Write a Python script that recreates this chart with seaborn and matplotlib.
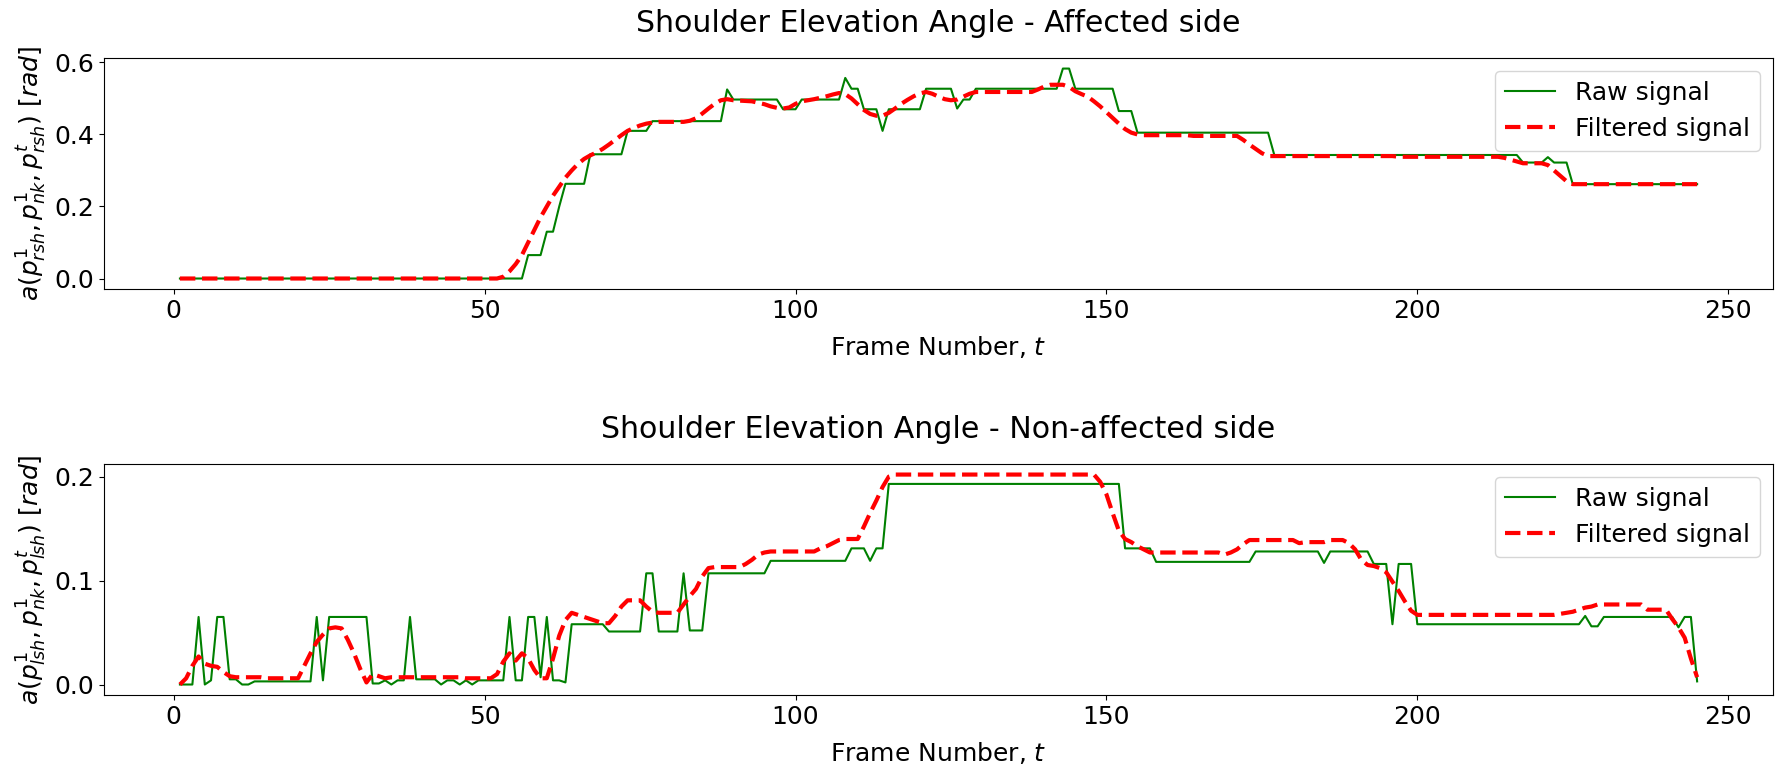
import numpy as np
import seaborn as sns
import matplotlib
matplotlib.use('Agg')
import matplotlib.pyplot as plt

# values, stored as (value, number of frames)
affected_raw = [
    (0.0, 56), (0.065, 3), (0.13, 2), (0.2, 1), (0.263, 4), (0.345, 6),
    (0.41, 4), (0.437, 12), (0.525, 1), (0.497, 8), (0.47, 3), (0.497, 7),
    (0.557, 1), (0.527, 2), (0.47, 3), (0.41, 1), (0.47, 6), (0.527, 5),
    (0.472, 1), (0.497, 2), (0.527, 14), (0.583, 2), (0.527, 7), (0.465, 3),
    (0.405, 22), (0.343, 40), (0.322, 4), (0.337, 1), (0.322, 3), (0.262, 21),
]
affected_filt = [
    (0.0, 52), (0.005, 1), (0.02, 1), (0.04, 1), (0.065, 1), (0.1, 1),
    (0.135, 1), (0.17, 1), (0.2, 1), (0.23, 1), (0.255, 1), (0.28, 1),
    (0.3, 1), (0.318, 1), (0.332, 1), (0.342, 1), (0.35, 1), (0.36, 1),
    (0.372, 1), (0.385, 1), (0.398, 1), (0.41, 1), (0.418, 1), (0.425, 1),
    (0.43, 1), (0.433, 1), (0.435, 5), (0.438, 1), (0.445, 1), (0.458, 1),
    (0.472, 1), (0.485, 1), (0.495, 1), (0.498, 1), (0.495, 1), (0.494, 1),
    (0.493, 1), (0.492, 1), (0.488, 1), (0.484, 1), (0.478, 1), (0.474, 1),
    (0.472, 1), (0.475, 1), (0.485, 1), (0.492, 1), (0.495, 1), (0.498, 1),
    (0.502, 1), (0.506, 1), (0.511, 1), (0.515, 1), (0.512, 1), (0.5, 1),
    (0.484, 1), (0.468, 1), (0.457, 1), (0.452, 2), (0.46, 1), (0.472, 1),
    (0.485, 1), (0.496, 1), (0.506, 1), (0.514, 1), (0.518, 1), (0.513, 1),
    (0.505, 1), (0.498, 1), (0.495, 1), (0.497, 1), (0.505, 1), (0.513, 1),
    (0.518, 10), (0.525, 1), (0.533, 1), (0.538, 3), (0.532, 1), (0.52, 1),
    (0.512, 1), (0.505, 1), (0.492, 1), (0.478, 1), (0.462, 1), (0.446, 1),
    (0.43, 1), (0.415, 1), (0.405, 1), (0.4, 1), (0.398, 8), (0.396, 8),
    (0.385, 1), (0.372, 1), (0.36, 1), (0.348, 1), (0.34, 1), (0.34, 20),
    (0.338, 17), (0.335, 1), (0.33, 1), (0.325, 1), (0.32, 4), (0.315, 1),
    (0.3, 1), (0.285, 1), (0.27, 1), (0.262, 21),
]
nonaffected_raw = [
    (0.0, 3), (0.065, 1), (0.0, 1), (0.004, 1), (0.065, 2), (0.005, 2),
    (0.0, 2), (0.003, 10), (0.065, 1), (0.004, 1), (0.065, 7), (0.001, 2),
    (0.004, 1), (0.0, 1), (0.004, 2), (0.065, 1), (0.005, 4), (0.0, 1),
    (0.004, 2), (0.0, 1), (0.004, 1), (0.0, 1), (0.004, 5), (0.065, 1),
    (0.004, 2), (0.065, 2), (0.007, 1), (0.065, 1), (0.004, 2), (0.002, 1),
    (0.058, 6), (0.051, 6), (0.107, 2), (0.051, 4), (0.107, 1), (0.052, 3),
    (0.107, 10), (0.119, 13), (0.131, 3), (0.119, 1), (0.131, 2), (0.193, 38),
    (0.131, 5), (0.118, 16), (0.128, 11), (0.117, 1), (0.128, 7), (0.116, 3),
    (0.058, 1), (0.116, 3), (0.058, 27), (0.066, 1), (0.056, 2), (0.065, 12),
    (0.055, 1), (0.065, 2), (0.003, 1),
]
nonaffected_filt = [
    (0.0, 1), (0.006, 1), (0.018, 1), (0.027, 1), (0.02, 1), (0.018, 1),
    (0.017, 1), (0.012, 1), (0.008, 1), (0.007, 5), (0.006, 6), (0.018, 1),
    (0.03, 1), (0.041, 1), (0.048, 1), (0.054, 1), (0.055, 1), (0.054, 1),
    (0.043, 1), (0.03, 1), (0.015, 1), (0.002, 1), (0.01, 1), (0.008, 1),
    (0.006, 1), (0.007, 12), (0.006, 5), (0.01, 1), (0.022, 1), (0.03, 1),
    (0.023, 1), (0.03, 1), (0.025, 1), (0.014, 1), (0.006, 2), (0.025, 1),
    (0.047, 1), (0.062, 1), (0.069, 1), (0.067, 1), (0.065, 1), (0.063, 1),
    (0.061, 1), (0.059, 2), (0.066, 1), (0.075, 1), (0.081, 3), (0.075, 1),
    (0.07, 1), (0.069, 4), (0.077, 1), (0.085, 1), (0.092, 1), (0.104, 1),
    (0.112, 1), (0.113, 5), (0.116, 1), (0.12, 1), (0.125, 1), (0.127, 1),
    (0.128, 8), (0.131, 1), (0.133, 1), (0.136, 1), (0.139, 1), (0.14, 3),
    (0.152, 1), (0.165, 1), (0.177, 1), (0.19, 1), (0.2, 1), (0.202, 33),
    (0.195, 1), (0.183, 1), (0.165, 1), (0.148, 1), (0.14, 1), (0.137, 1),
    (0.133, 1), (0.13, 1), (0.127, 12), (0.125, 1), (0.127, 1), (0.13, 1),
    (0.135, 1), (0.139, 8), (0.136, 1), (0.137, 4), (0.139, 3), (0.136, 1),
    (0.13, 1), (0.12, 1), (0.115, 1), (0.114, 1), (0.112, 1), (0.108, 1),
    (0.099, 1), (0.09, 1), (0.08, 1), (0.071, 1), (0.067, 23), (0.068, 1),
    (0.069, 1), (0.07, 1), (0.072, 1), (0.074, 1), (0.075, 1), (0.077, 8),
    (0.072, 4), (0.063, 1), (0.055, 1), (0.045, 1), (0.025, 1), (0.007, 1),
]

titles = ['Shoulder Elevation Angle - Affected side',
          'Shoulder Elevation Angle - Non-affected side']
ylabels = [r'$a(p_{rsh}^1, p_{nk}^1, p_{rsh}^t)\ [rad]$',
           r'$a(p_{lsh}^1, p_{nk}^1, p_{lsh}^t)\ [rad]$']


def expand(runs):
    return np.concatenate([np.full(n, v) for v, n in runs])


plt.rcParams['font.family'] = ['DejaVu Sans']
plt.rcParams['font.size'] = 18
plt.rcParams['mathtext.fontset'] = 'dejavusans'

fig, axes = plt.subplots(2, 1, figsize=(17.76, 7.64), dpi=100)
fig.subplots_adjust(left=0.0586, right=0.9983, top=0.924, bottom=0.0903,
                    hspace=0.758)

series = [(affected_raw, affected_filt), (nonaffected_raw, nonaffected_filt)]
for ax, (raw, filt), title, ylab in zip(axes, series, titles, ylabels):
    raw_v = expand(raw)
    filt_v = expand(filt)
    frames = np.arange(1, len(raw_v) + 1)
    sns.lineplot(x=frames, y=raw_v, ax=ax, color='g', linewidth=1.5,
                 label='Raw signal')
    sns.lineplot(x=frames, y=filt_v, ax=ax, color='r', linewidth=3,
                 linestyle='--', label='Filtered signal')
    ax.set_title(title, pad=19)
    ax.set_xlabel('Frame Number, $t$', labelpad=8)
    ax.set_ylabel(ylab)
    ax.legend(loc='upper right', fontsize=18)

plt.savefig('out.png', dpi=100)
